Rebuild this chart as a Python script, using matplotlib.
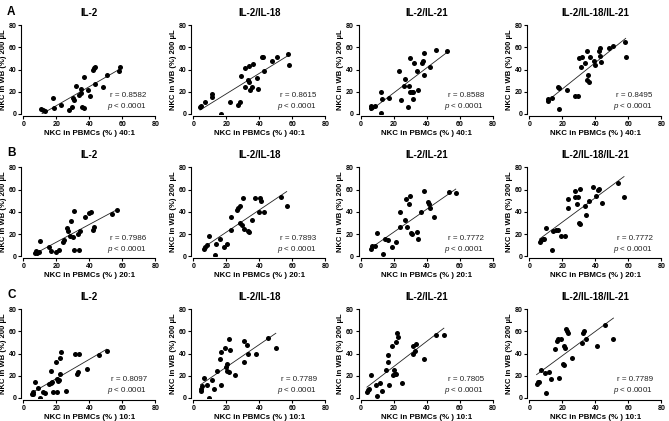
import matplotlib
matplotlib.use("Agg")
import matplotlib.pyplot as plt
import numpy as np

plt.rcParams["font.family"] = ["Liberation Sans", "DejaVu Sans"]
plt.rcParams["mathtext.fontset"] = "custom"
plt.rcParams["mathtext.rm"] = "Liberation Sans"
plt.rcParams["mathtext.it"] = "Liberation Sans:italic"

TITLES = ["IL-2", "IL-2/IL-18", "IL-2/IL-21", "IL-2/IL-18/IL-21"]
ROW_LETTERS = ["A", "B", "C"]
RATIOS = ["40:1", "20:1", "10:1"]
R_VALUES = [
    ["0.8582", "0.8615", "0.8588", "0.8495"],
    ["0.7986", "0.7893", "0.7772", "0.7772"],
    ["0.8097", "0.7789", "0.7805", "0.7789"],
]

# row A (40:1)
a1_x = [11, 12, 13, 18, 18.5, 23, 28, 29.5, 30, 31, 32, 34, 35, 35, 35.5, 36.5, 37, 39.5, 40.5, 42, 43, 43.5, 43.5, 48.5, 51, 58, 58.5]
a1_y = [4.5, 3.5, 3, 14, 5, 8.5, 4, 6.5, 14.5, 13, 25, 17, 19, 22.5, 6, 5.5, 33, 22, 16, 40, 41, 42, 27, 24.5, 35.5, 38.5, 42]
a2_x = [4.1, 4.5, 6.9, 11.2, 11.6, 16.6, 22, 27, 28.4, 28.8, 31.4, 31.6, 33.3, 33.5, 33.9, 34.5, 35.3, 36.1, 38.5, 39.4, 41.4, 42.4, 42.6, 47.7, 50.7, 57.2, 58]
a2_y = [6.3, 7.5, 10.7, 17.9, 15.2, 0.3, 11, 8, 11, 34.6, 41, 24, 30.7, 28.4, 42.7, 21.2, 23.9, 44.8, 32.2, 22.7, 51, 51.6, 39, 47.8, 51.6, 53.7, 44.2]
a3_x = [6, 6.2, 6.6, 8.4, 12.4, 13, 12.6, 17.4, 23, 24.6, 26, 27, 28.6, 29, 29.6, 30, 30.8, 31.4, 31.6, 32, 34.4, 35, 37, 38, 38.4, 38.4, 42, 45.6, 52.6]
a3_y = [7.5, 5, 6.3, 7.5, 19.5, 13.5, 1, 14.3, 39, 12.3, 25.5, 31.7, 6.3, 25, 50, 19.5, 19.5, 13.5, 20, 46, 39, 21.7, 46, 47.8, 54.6, 35, 42.6, 57.5, 56.6]
a4_x = [11.4, 11.4, 13.8, 17.4, 18, 17.8, 22.8, 27.8, 29.4, 30, 31.4, 32, 34, 35, 35, 35.8, 36.4, 37, 39.4, 40, 42.4, 43, 43, 43.4, 48.4, 50.8, 57.8, 58.4]
a4_y = [13.5, 12, 14, 24, 23, 4.5, 21.7, 16.4, 16.4, 50, 42.6, 51.6, 46.2, 56.7, 30.7, 35.2, 29.2, 51.6, 47.8, 44, 57, 59, 52.5, 46.5, 59, 61.5, 65, 51.6]

# row B (20:1)
b1_x = [7, 7.4, 8, 9.6, 10.4, 15.6, 17, 19.6, 21.6, 24, 24.4, 26.6, 27, 28.6, 29, 30.4, 31, 31, 33, 34, 34.6, 37.6, 39.6, 41, 42, 43, 53.6, 57]
b1_y = [3, 4.5, 3.3, 4, 14, 8, 5, 4, 6, 13, 14.6, 25, 22.7, 18.5, 32, 17, 41, 5.4, 20, 6, 22.4, 35, 38.8, 39.7, 24, 26, 38, 42]
b2_x = [6.6, 7, 8.6, 9.6, 13.4, 14, 16, 18.4, 20.6, 23, 23, 26.4, 27, 28.6, 28, 29.6, 30, 30.6, 33.4, 34, 35.4, 37.6, 40.6, 41.2, 40, 43, 53.4, 56.6]
b2_y = [7, 8, 10.4, 18, 1, 11, 15.8, 8, 11, 24, 35, 41.8, 43.3, 45.4, 30, 27.8, 52.8, 24.5, 22.4, 21.8, 32.2, 52.2, 52.2, 49.3, 39.4, 39.4, 53.7, 45.4]
b3_x = [6.2, 6.8, 8.6, 10, 13.6, 14.6, 16.6, 19, 21.2, 23.6, 23.6, 26.6, 27.6, 28.2, 29.2, 30, 30.6, 31.2, 34, 34.6, 36.6, 38.6, 40.6, 41.6, 42.2, 44.2, 53.6, 57.6]
b3_y = [6.5, 9, 9.5, 21, 2, 15.4, 14.5, 8, 13.3, 40, 26.4, 33, 51.6, 26.4, 47, 54.5, 21.3, 20.4, 22, 15.4, 40, 58.4, 48.6, 47.4, 43, 35.5, 57.8, 57.3]
b4_x = [6.4, 7, 8, 9, 10, 13.8, 14.4, 16.4, 17.4, 19, 21.4, 23.4, 23.4, 27.4, 27.4, 29, 29.4, 30.4, 31, 31, 34, 34.4, 36.4, 38.4, 40.4, 41.4, 42.4, 43.8, 53.8, 57.4]
b4_y = [13.3, 14.8, 15.7, 16, 25.8, 5.6, 22.8, 23.4, 23.7, 18, 18, 51.6, 43.5, 58.4, 53.3, 47, 53, 30.2, 28.7, 60.7, 45, 36.7, 49.5, 62.6, 53.8, 60, 60.7, 48, 66, 53.3]

# row C (10:1)
c1_x = [5, 5.6, 6, 7, 9, 10.4, 12, 13, 15.6, 16.6, 17, 17.4, 18, 19.6, 20.4, 20.6, 21, 21.6, 22, 22.4, 22.6, 26, 31.6, 32.4, 33.4, 34, 38.4, 46, 50.6]
c1_y = [3.3, 4, 5, 14, 9, 0, 5.5, 4.3, 12.3, 13.5, 24, 14, 5.5, 32, 16.9, 5, 15, 16, 22, 36, 41.5, 6, 40, 21.2, 23.5, 40, 26.5, 38.5, 42]
c2_x = [4.4, 4.6, 5, 6.4, 8.4, 9.4, 11.6, 12.4, 14.6, 16, 16.6, 17, 19, 19.6, 20.2, 20.4, 21.4, 21.6, 22, 25, 31, 31, 32.4, 33.4, 38, 45.4, 50]
c2_y = [6, 8.4, 10.5, 18.4, 11.4, 0.3, 16, 7.8, 24, 35, 41.5, 11.4, 45, 28, 30.7, 24, 23, 52.6, 43, 21, 51, 32, 48, 39.4, 39.4, 54, 45]
c3_x = [3.8, 4.4, 5, 6.4, 9, 10, 11.8, 12.8, 15.4, 16.4, 16.8, 17.4, 19, 19.8, 20.4, 21, 21.4, 22, 22.4, 21.4, 25, 31.4, 31.8, 33, 33.8, 38.4, 45.4, 50.4]
c3_y = [5.5, 7, 8.4, 20.4, 11.4, 1.5, 13.8, 6.3, 25, 39, 32, 12, 46.5, 20.4, 25, 21.3, 50.6, 58, 54.4, 21.3, 13.8, 46.8, 39.4, 42, 48.3, 35, 57, 57]
c4_x = [4.4, 5, 5.8, 6.8, 9.4, 10.4, 12, 13, 15.4, 16.8, 17.4, 17.8, 19.4, 20.4, 20.8, 21, 21.8, 22.4, 22.8, 23.4, 25.8, 31.8, 32.4, 33.4, 34.4, 41, 46, 51]
c4_y = [13, 14, 14.4, 25, 22.6, 4.8, 23.5, 17, 43.6, 51.4, 53, 17.6, 53, 31, 30, 47, 45, 62.4, 60.4, 58.7, 36.2, 49, 58.7, 60, 53.3, 47, 66, 52.6]

PANELS = [
    [(a1_x, a1_y), (a2_x, a2_y), (a3_x, a3_y), (a4_x, a4_y)],
    [(b1_x, b1_y), (b2_x, b2_y), (b3_x, b3_y), (b4_x, b4_y)],
    [(c1_x, c1_y), (c2_x, c2_y), (c3_x, c3_y), (c4_x, c4_y)],
]

W, H = 669, 421
COL_LEFT = [23.3, 193.3, 360.7, 529.3]
ROW_TOP = [25, 167.3, 309]
AX_W, AX_H = 132, 89


def draw_panel(ax, x, y, title, ratio, r_text):
    x = np.asarray(x)
    y = np.asarray(y)
    ax.scatter(x, y, s=13, color="black", linewidths=0, zorder=3)
    slope, icpt = np.polyfit(x, y, 1)
    xs = np.array([x.min(), x.max()])
    ax.plot(xs, slope * xs + icpt, color="#222222", lw=0.6, zorder=2)

    ax.set_xlim(0, 80)
    ax.set_ylim(0, 80)
    ax.set_xticks([0, 20, 40, 60, 80])
    ax.set_yticks([0, 20, 40, 60, 80])
    for side in ["top", "right"]:
        ax.spines[side].set_visible(False)
    for side in ["left", "bottom"]:
        ax.spines[side].set_linewidth(0.8)
        ax.spines[side].set_position(("outward", 1.5))
    ax.tick_params(length=2.2, width=0.8, pad=1.2, labelsize=5.0)
    for lab in ax.get_xticklabels() + ax.get_yticklabels():
        lab.set_fontweight("bold")

    ax.set_title(title, fontsize=7, fontweight="bold", pad=6.5)
    ax.set_xlabel(f"NKC in PBMCs (% ) {ratio}", fontsize=5.7, fontweight="bold", labelpad=1.3)
    ax.set_ylabel("NKC in WB (%) 200 µL", fontsize=5.5, fontweight="bold", labelpad=1.3)

    ax.text(0.935, 0.205, f"r = {r_text}", transform=ax.transAxes,
            ha="right", va="center", fontsize=5.8, color="#222222")
    ax.text(0.935, 0.08, r"$p$ < 0.0001", transform=ax.transAxes,
            ha="right", va="center", fontsize=5.8, color="#222222")


def main():
    fig = plt.figure(figsize=(W / 100, H / 100), dpi=100)
    for i in range(3):
        for j in range(4):
            left = COL_LEFT[j] / W
            bottom = 1 - (ROW_TOP[i] + AX_H) / H
            ax = fig.add_axes([left, bottom, AX_W / W, AX_H / H])
            x, y = PANELS[i][j]
            draw_panel(ax, x, y, TITLES[j], RATIOS[i], R_VALUES[i][j])
        fig.text(7 / W, 1 - (12 + i * 141.5) / H, ROW_LETTERS[i],
                 fontsize=8.5, fontweight="bold", ha="left", va="center")
    fig.savefig("out.png", dpi=100)


if __name__ == "__main__":
    main()
